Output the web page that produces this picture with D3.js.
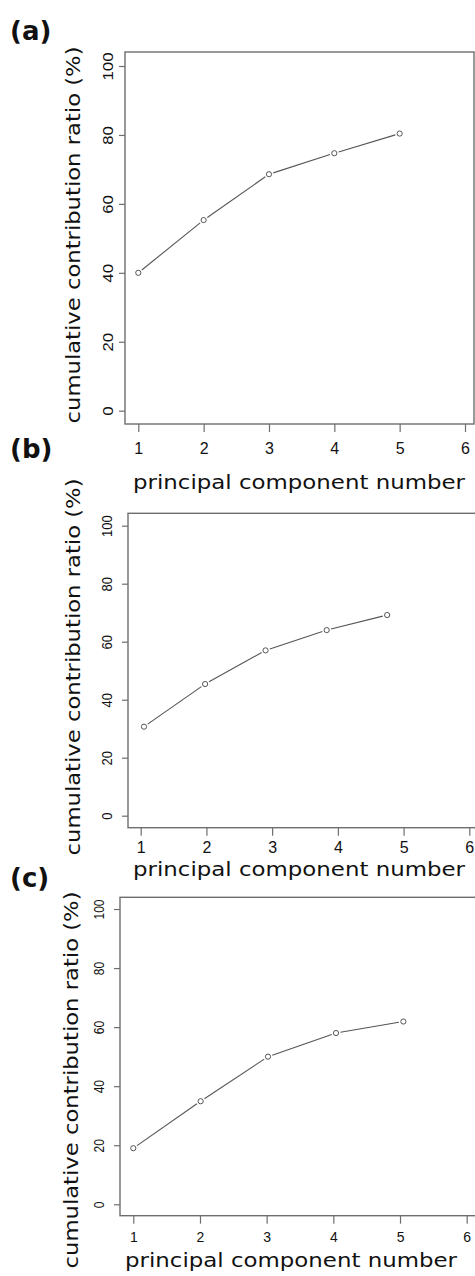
<!DOCTYPE html>
<html><head><meta charset="utf-8">
<script src="https://cdn.jsdelivr.net/npm/d3@7"></script>
<style>body{margin:0;background:#fff}</style>
</head><body>
<svg id="c" width="475" height="1276" xmlns="http://www.w3.org/2000/svg"></svg>
<script>
// ---- data ----
const panelLabels = ["(a)", "(b)", "(c)"];
const xTicks = [1, 2, 3, 4, 5, 6];
const yTicks = [0, 20, 40, 60, 80, 100];
const xTitle = "principal component number";
const yTitle = "cumulative contribution ratio (%)";
const xA = [1, 2, 3, 4, 5];
const yA = [40.0, 55.3, 68.6, 74.7, 80.4];
const xB = [1.05, 1.98, 2.90, 3.83, 4.75];
const yB = [30.7, 45.4, 57.0, 64.0, 69.2];
const xC = [1.0, 2.01, 3.02, 4.04, 5.05];
const yC = [19.0, 34.9, 50.0, 58.0, 61.9];

// ---- layout (positions only) ----
const panels = [
  {xs: xA, ys: yA, label: panelLabels[0], labelY: 39.5,
   xr: [138.3, 465], yr: [410.7, 66], box: {l: 125, t: 52, r: 474, b: 424},
   yLabX: 108, yTickScale: 1.2, xLabY: 454, xLabSize: 16,
   yTitleX: 80, yTitleC: 235, xTitleX: 133, xTitleY: 489},
  {xs: xB, ys: yB, label: panelLabels[1], labelY: 458,
   xr: [140.7, 469.3], yr: [815.7, 525.7], box: {l: 128, t: 513.3, r: 478, b: 827.7},
   yLabX: 106.7, yTickScale: 0.93, xLabY: 853.3, xLabSize: 16,
   yTitleX: 80, yTitleC: 667, xTitleX: 133, xTitleY: 876},
  {xs: xC, ys: yC, label: panelLabels[2], labelY: 886.5,
   xr: [133.3, 466.7], yr: [1204.3, 909], box: {l: 120, t: 897.3, r: 478, b: 1215.7},
   yLabX: 99, yTickScale: 0.86, xLabY: 1241.7, xLabSize: 14,
   yTitleX: 78, yTitleC: 1080, xTitleX: 125, xTitleY: 1267}
];

const svg = d3.select("#c");
const AX = "#6e6e6e", LN = "#555", TX = "#111";

panels.forEach(p => {
  const g = svg.append("g");
  const x = d3.scaleLinear().domain([1, 6]).range(p.xr);
  const y = d3.scaleLinear().domain([0, 100]).range(p.yr);
  const b = p.box;

  // box
  g.append("rect").attr("x", b.l).attr("y", b.t)
    .attr("width", b.r - b.l).attr("height", b.b - b.t)
    .attr("fill", "none").attr("stroke", AX).attr("stroke-width", 1.4);

  // x axis
  const xa = g.append("g").attr("transform", `translate(0,${b.b})`)
    .call(d3.axisBottom(x).tickValues(xTicks).tickSize(8).tickPadding(4).tickFormat(d3.format("d")));
  xa.select(".domain").remove();
  xa.selectAll(".tick line").attr("stroke", AX).attr("stroke-width", 1.2);
  xa.selectAll(".tick text")
    .attr("dy", null)
    .attr("y", p.xLabY - b.b)
    .attr("fill", TX)
    .style("font-family", "'Liberation Sans', Arial, sans-serif")
    .style("font-size", p.xLabSize + "px");

  // y axis
  const ya = g.append("g").attr("transform", `translate(${b.l},0)`)
    .call(d3.axisLeft(y).tickValues(yTicks).tickSize(6).tickFormat(d3.format("d")));
  ya.select(".domain").remove();
  ya.selectAll(".tick line").attr("stroke", AX).attr("stroke-width", 1.2);
  ya.selectAll(".tick text")
    .attr("dy", null)
    .attr("text-anchor", "middle")
    .attr("transform", `translate(${p.yLabX - b.l + 5},0) rotate(-90) scale(${p.yTickScale},1)`)
    .attr("x", 0).attr("y", 0)
    .attr("fill", TX)
    .style("font-family", "'Liberation Sans', Arial, sans-serif")
    .style("font-size", "14px");

  // connecting segments with gaps (type="b")
  const pts = p.xs.map((d, i) => [x(d), y(p.ys[i])]);
  const gap = 4.5;
  for (let i = 0; i < pts.length - 1; i++) {
    const [x0, y0] = pts[i], [x1, y1] = pts[i + 1];
    const dx = x1 - x0, dy = y1 - y0, L = Math.hypot(dx, dy);
    const ux = dx / L, uy = dy / L;
    g.append("line")
      .attr("x1", x0 + ux * gap).attr("y1", y0 + uy * gap)
      .attr("x2", x1 - ux * gap).attr("y2", y1 - uy * gap)
      .attr("stroke", LN).attr("stroke-width", 1.1);
  }
  g.selectAll("circle.pt").data(pts).enter().append("circle")
    .attr("class", "pt")
    .attr("cx", d => d[0]).attr("cy", d => d[1]).attr("r", 2.6)
    .attr("fill", "none").attr("stroke", LN).attr("stroke-width", 1);

  // titles
  g.append("text")
    .attr("transform", `translate(${p.yTitleX},${p.yTitleC}) rotate(-90)`)
    .attr("text-anchor", "middle")
    .attr("textLength", 377).attr("lengthAdjust", "spacingAndGlyphs")
    .attr("fill", TX)
    .style("font-family", "'DejaVu Sans', sans-serif").style("font-size", "20px")
    .text(yTitle);
  g.append("text")
    .attr("x", p.xTitleX).attr("y", p.xTitleY)
    .attr("textLength", 332).attr("lengthAdjust", "spacingAndGlyphs")
    .attr("fill", TX)
    .style("font-family", "'DejaVu Sans', sans-serif").style("font-size", "19px")
    .text(xTitle);

  // panel label
  g.append("text")
    .attr("x", 10).attr("y", p.labelY)
    .attr("fill", TX)
    .style("font-family", "'DejaVu Sans', sans-serif").style("font-weight", "bold")
    .style("font-size", "26px")
    .text(p.label);
});
</script>
</body></html>
